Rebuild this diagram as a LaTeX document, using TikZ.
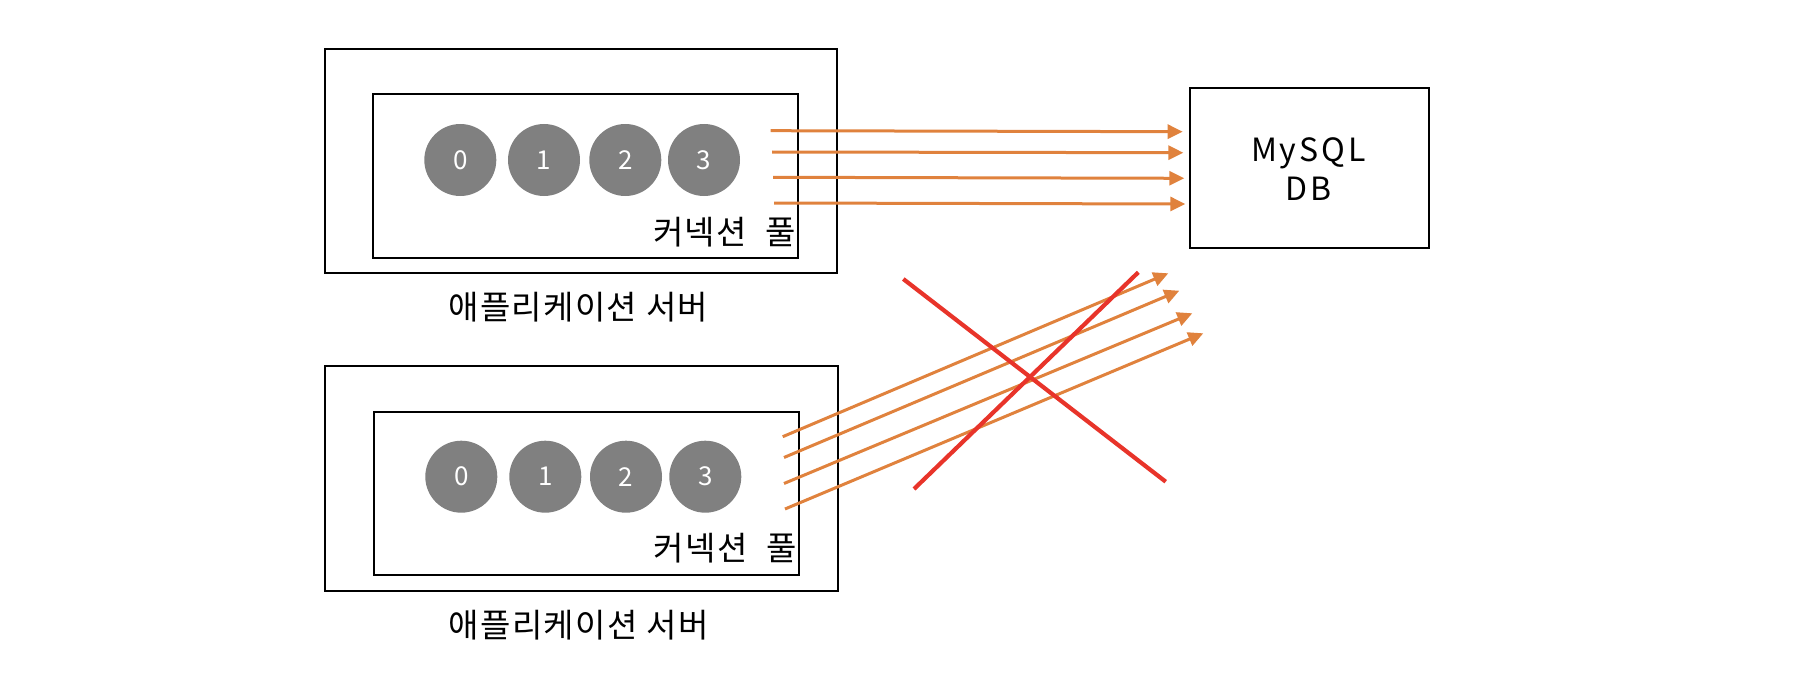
\documentclass[tikz,border=0pt]{standalone}
\usepackage{fontspec}
\setmainfont{Noto Sans CJK KR}
\newfontfamily\widefont[LetterSpace=4]{Noto Sans CJK KR}
\newfontfamily\dbfont[LetterSpace=9]{Noto Sans CJK KR}
\usetikzlibrary{arrows.meta}
\definecolor{conn}{HTML}{E0823D}
\definecolor{crossred}{HTML}{E8342A}
\definecolor{ballgray}{HTML}{808080}
\begin{document}
\begin{tikzpicture}[x=1pt,y=-1pt,
  box/.style={draw=black,line width=2pt,inner sep=0pt,anchor=north west},
  ball/.style={circle,fill=ballgray,minimum size=72pt,inner sep=0pt,text=white,font=\fontsize{26}{30}\selectfont},
  lbl/.style={inner sep=0pt,font=\widefont\fontsize{33}{38}\selectfont},
  conline/.style={draw=conn,line width=3pt,-{Triangle[length=15pt,width=14pt]}},
  xline/.style={draw=crossred,line width=4.2pt}]
\useasboundingbox (0,0) rectangle (1804,698);
% top server
\node[box,minimum width=512.5pt,minimum height=224.3pt] (srvA) at (323.5,47.7) {};
\node[box,minimum width=425pt,minimum height=163.4pt] (poolA) at (372.3,93.3) {};
\node[ball] (a0) at (460.3,160) {0};
\node[ball] (a1) at (544,160) {1};
\node[ball] (a2) at (625.3,160) {2};
\node[ball] (a3) at (704,160) {3};
\node[lbl] (poolAlbl) at (724.7,231.7) {커넥션\hspace{10pt} 풀};
\node[lbl] (srvAlbl) at (578.3,306.7) {애플리케이션 서버};
% bottom server
\node[box,minimum width=513pt,minimum height=225pt] (srvB) at (324.3,365) {};
\node[box,minimum width=424.7pt,minimum height=163pt] (poolB) at (373.3,410.7) {};
\node[ball] (b0) at (461.3,476.7) {0};
\node[ball] (b1) at (545.3,476.7) {1};
\node[ball] (b2) at (626,476.7) {2};
\node[ball] (b3) at (705.3,476.7) {3};
\node[lbl] (poolBlbl) at (725.3,548.3) {커넥션\hspace{10pt} 풀};
\node[lbl] (srvBlbl) at (578.7,625) {애플리케이션 서버};
% DB
\node[box,minimum width=239.3pt,minimum height=160pt] (db) at (1188.7,86.7) {};
\node[inner sep=0pt,align=center,font=\dbfont\fontsize{32}{39}\selectfont] (dblbl) at (1308.3,168.7) {MySQL\\DB};
% arrow endpoints
\coordinate (sA1) at (770.7,130.7); \coordinate (eA1) at (1182.7,131.7);
\coordinate (sA2) at (772,152);     \coordinate (eA2) at (1183.3,152.7);
\coordinate (sA3) at (773,177.3);   \coordinate (eA3) at (1184.3,178.3);
\coordinate (sA4) at (774,203);     \coordinate (eA4) at (1185.3,204);
\coordinate (sB1) at (782.7,436.7); \coordinate (eB1) at (1168.3,273.3);
\coordinate (sB2) at (784,457.5);   \coordinate (eB2) at (1179.3,290.7);
\coordinate (sB3) at (784,483.5);   \coordinate (eB3) at (1192.3,313.3);
\coordinate (sB4) at (785,509);     \coordinate (eB4) at (1203.3,333.3);
\foreach \i in {1,2,3,4}{
  \draw[conline] (sA\i) -- (eA\i);
  \draw[conline] (sB\i) -- (eB\i);
}
% red cross
\coordinate (x1s) at (903.3,279);   \coordinate (x1e) at (1165.7,481.7);
\coordinate (x2s) at (1138.3,272.3); \coordinate (x2e) at (914,489);
\draw[xline] (x1s) -- (x1e);
\draw[xline] (x2s) -- (x2e);
\end{tikzpicture}
\end{document}
